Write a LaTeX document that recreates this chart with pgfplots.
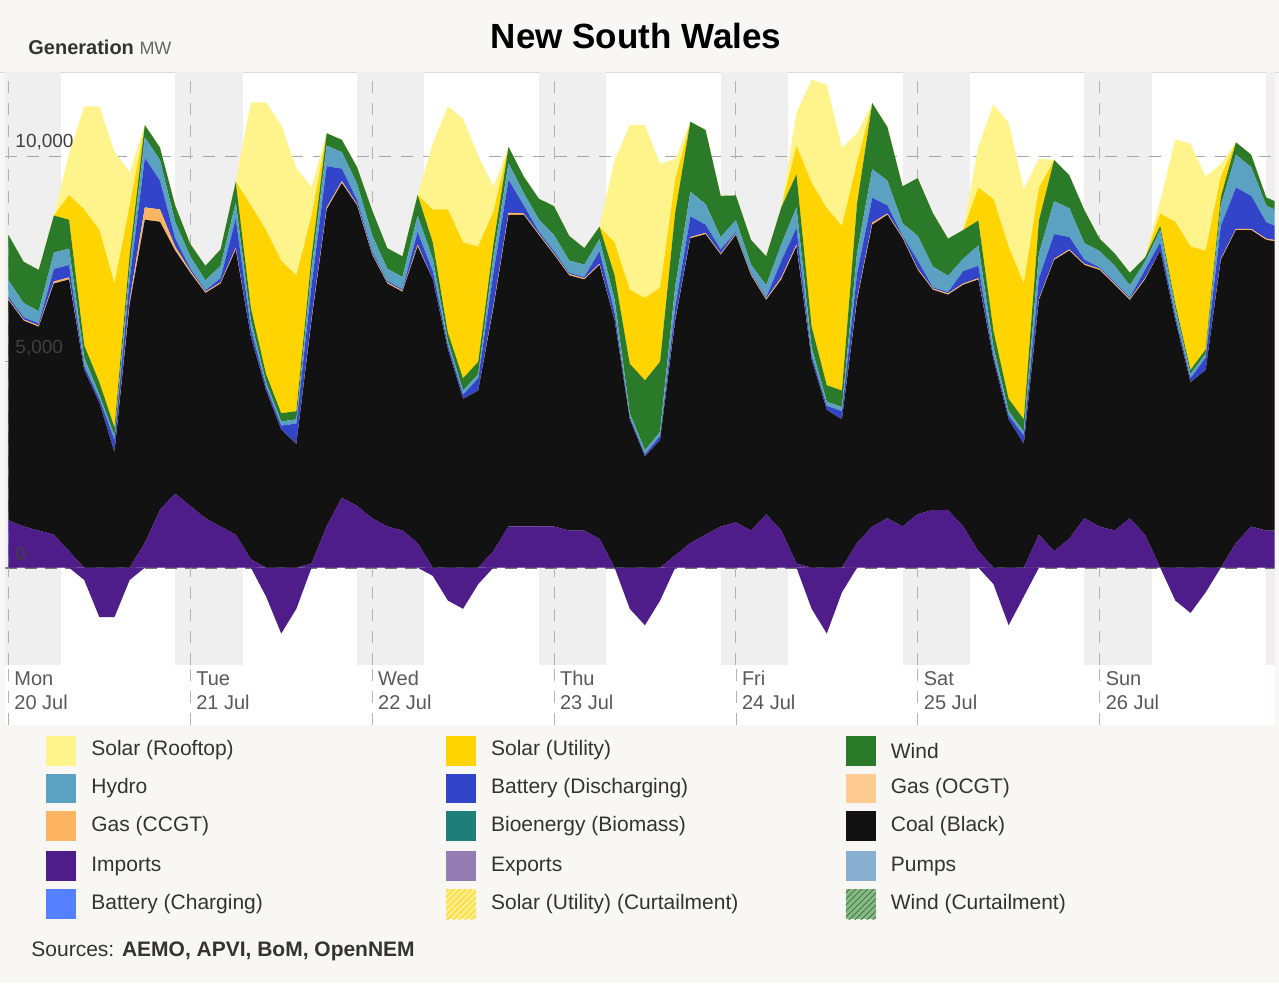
\documentclass[border=0pt]{standalone}
\usepackage{fontspec}
\setmainfont{Liberation Sans}
\usepackage{pgfplots}
\usepackage{pgfplotstable}
\pgfplotsset{compat=1.18}
\usetikzlibrary{patterns}
\definecolor{bg}{HTML}{F8F7F3}
\definecolor{roof}{HTML}{FFF38C}
\definecolor{sutil}{HTML}{FFD400}
\definecolor{wind}{HTML}{2B7A2A}
\definecolor{hydro}{HTML}{5BA2C2}
\definecolor{batt}{HTML}{3245C8}
\definecolor{gasc}{HTML}{FDB462}
\definecolor{gaso}{HTML}{FFCB92}
\definecolor{coal}{HTML}{121212}
\definecolor{imp}{HTML}{4F1D8A}
\definecolor{expo}{HTML}{957DB3}
\definecolor{pumps}{HTML}{88AED0}
\definecolor{bcharge}{HTML}{5580FF}
\definecolor{bio}{HTML}{1F7E7A}
\definecolor{night}{HTML}{EFEFEF}
\definecolor{txt}{HTML}{333333}
\pgfplotstableread{
h imp exp coal gas batt hydro wind sutil sroof
0 1150 0 5350 30 50 400 1100 0 0
2 1000 0 5000 30 50 350 1000 0 0
4 900 0 4950 30 50 300 1000 0 0
6 800 0 6100 50 300 400 900 0 0
8 400 0 6600 50 300 400 700 600 1000
10 0 -300 4800 0 100 200 300 3300 2500
12 0 -1200 4000 0 100 100 300 3700 3000
14 0 -1200 2800 0 300 100 200 3500 3200
16 0 -300 6400 100 500 300 300 1200 800
18 600 0 7850 300 1200 500 300 0 0
20 1400 0 7000 300 700 500 300 0 0
22 1800 0 5900 100 200 400 400 0 0
24 1500 0 5660 50 50 300 300 0 0
26 1200 0 5470 30 30 250 350 0 0
28 1000 0 5900 30 100 300 400 0 0
30 800 0 6920 50 700 400 500 0 0
32 200 0 5400 0 200 200 300 2500 2500
34 0 -700 4300 0 100 100 200 3500 3100
36 0 -1600 3350 0 100 100 200 3700 3300
38 0 -1000 3000 0 500 100 200 3300 2600
40 100 0 5900 50 800 400 300 1000 700
42 1000 0 7700 50 1000 500 300 0 0
44 1700 0 7640 50 300 400 300 0 0
46 1500 0 7300 30 100 400 400 0 0
48 1200 0 6400 30 50 400 600 0 0
50 1000 0 5900 30 30 300 500 0 0
52 900 0 5800 30 30 300 500 0 0
54 600 0 7200 50 300 400 500 0 0
56 0 -200 7000 0 200 300 400 800 1600
58 0 -800 5300 0 100 100 200 3000 2500
60 0 -1000 4100 0 100 100 300 3300 3000
62 0 -400 4300 0 300 100 300 2800 2200
64 400 0 5900 50 800 400 300 800 600
66 1000 0 7570 50 800 400 400 0 0
68 1000 0 7570 30 200 300 400 0 0
70 1000 0 7080 30 50 300 500 0 0
72 1000 0 6600 30 50 400 700 0 0
74 900 0 6200 30 30 300 600 0 0
76 900 0 6100 30 30 300 400 0 0
78 700 0 6650 30 300 300 300 0 0
80 0 0 6000 0 200 300 600 800 2000
82 0 -1000 3600 0 50 100 1200 1800 4000
84 0 -1400 2700 0 50 100 1700 2000 4200
86 0 -800 3100 0 100 100 1700 1800 3000
88 300 0 5700 30 300 500 1800 800 500
90 600 0 7400 30 500 600 1700 0 0
92 800 0 7300 30 200 500 1800 0 0
94 1000 0 6600 30 100 300 1000 0 0
96 1100 0 6980 30 30 300 600 0 0
98 900 0 6200 30 30 200 600 0 0
100 1300 0 5200 30 30 300 700 0 0
102 900 0 6100 50 400 400 900 0 0
104 100 0 7700 50 400 500 800 700 800
106 0 -1000 5050 0 100 200 500 3500 2500
108 0 -1600 3830 0 100 100 400 4300 3000
110 0 -600 3600 0 200 100 400 4000 1900
112 600 0 5900 50 600 500 1200 1000 700
114 1000 0 7330 50 600 700 1600 0 0
116 1200 0 7370 30 200 600 1300 0 0
118 1000 0 7000 30 30 300 900 0 0
120 1300 0 5930 30 200 600 1400 0 0
122 1400 0 5350 30 30 500 1300 0 0
124 1400 0 5230 30 30 400 900 0 0
126 1000 0 5870 30 300 300 700 0 0
128 400 0 6600 30 300 500 600 800 1000
130 0 -400 5050 0 100 200 400 3200 2300
132 0 -1400 3600 0 100 100 300 3700 3000
134 0 -700 3000 0 200 100 300 3300 2300
136 800 0 5700 30 500 600 800 800 700
138 400 0 7070 30 600 800 1000 0 0
140 700 0 7000 30 300 700 800 0 0
142 1200 0 6150 30 100 400 800 0 0
144 1000 0 6230 30 30 400 300 0 0
146 900 0 5970 30 30 400 300 0 0
148 1200 0 5300 30 30 300 300 0 0
150 800 0 6200 30 200 200 100 0 0
152 0 0 7700 0 200 300 100 300 300
154 0 -800 6000 0 100 200 100 2000 2000
156 0 -1100 4500 0 100 100 100 3000 2500
158 0 -600 4800 0 300 100 100 2400 1800
160 0 0 7470 30 800 500 200 500 300
162 600 0 7600 30 1000 800 300 0 0
164 1000 0 7200 30 800 700 300 0 0
166 900 0 7060 30 400 400 200 0 0
168 900 0 7000 30 300 400 200 0 0
}\data
\begin{document}
\begin{tikzpicture}[x=1pt,y=1pt]
\fill[bg] (0,0) rectangle (639.5,492);
\fill[white] (2.5,129.5) rectangle (637.5,456);
\draw[black!15] (0,456) -- (639.5,456);
\foreach \a/\b in {2.5/30.17,87.42/121.17,178.41/212.16,269.40/303.15,360.39/394.14,451.38/485.13,542.37/576.12,633.36/637.5}{
  \fill[night] (\a,159.5) rectangle (\b,456);}
\node[anchor=center,font=\fontsize{17.5}{20}\selectfont\bfseries] at (318,474) {New South Wales};
\node[anchor=west,text=txt] at (10.5,468.5) {\fontsize{10}{12}\selectfont\bfseries Generation \fontsize{9}{11}\selectfont\mdseries\color{black!60}MW};
\begin{axis}[at={(2.5pt,159.5pt)},anchor=south west,scale only axis,
  width=635pt,height=296.5pt,xmin=-0.4,xmax=167.1,ymin=-2354,ymax=12039,
  axis line style={draw=none},ticks=none,clip=true,stack plots=y]
\addplot[fill=imp,draw=none] table[x=h,y=imp]{\data} \closedcycle;
\addplot[fill=coal,draw=none] table[x=h,y=coal]{\data} \closedcycle;
\addplot[fill=gasc,draw=none] table[x=h,y=gas]{\data} \closedcycle;
\addplot[fill=batt,draw=none] table[x=h,y=batt]{\data} \closedcycle;
\addplot[fill=hydro,draw=none] table[x=h,y=hydro]{\data} \closedcycle;
\addplot[fill=wind,draw=none] table[x=h,y=wind]{\data} \closedcycle;
\addplot[fill=sutil,draw=none] table[x=h,y=sutil]{\data} \closedcycle;
\addplot[fill=roof,draw=none] table[x=h,y=sroof]{\data} \closedcycle;
\addplot[fill=imp,draw=none,stack plots=false] table[x=h,y=exp]{\data} \closedcycle;
\pgfplotsinvokeforeach{0,24,48,72,96,120,144}{
  \draw[black!30,dash pattern=on 6pt off 5pt] (axis cs:#1,-2354) -- (axis cs:#1,12039);}
\draw[black!35,dash pattern=on 6pt off 5pt] (axis cs:-0.4,5000) -- (axis cs:167.1,5000);
\draw[black!35,dash pattern=on 6pt off 5pt] (axis cs:-0.4,10000) -- (axis cs:167.1,10000);
\draw[black!55,line width=1pt,dash pattern=on 6pt off 4pt] (axis cs:-0.4,0) -- (axis cs:167.1,0);
\end{axis}
\draw[black!30,dash pattern=on 6pt off 5pt] (4,129.5) -- (4,159.5);
\foreach \i in {1,...,6}{\draw[black!30,dash pattern=on 6pt off 5pt] (4+91*\i,129.5) -- (4+91*\i,159.5);}
\begin{scope}[every node/.style={anchor=west,font=\fontsize{9.5}{11}\selectfont,text=black!75}]
\node at (4,421) {10,000};
\node at (4,318) {5,000};
\node at (4,215) {0};
\end{scope}
\begin{scope}[every node/.style={anchor=west,font=\fontsize{10}{12}\selectfont,text=black!65}]
\foreach \n/\dd [count=\i from 0] in {Mon/20,Tue/21,Wed/22,Thu/23,Fri/24,Sat/25,Sun/26}{
  \node at (3.5+91*\i,152.5) {\n};
  \node at (3.5+91*\i,140.5) {\dd{} Jul};}
\end{scope}
\begin{scope}[every node/.style={anchor=west,font=\fontsize{10.5}{12}\selectfont,text=txt}]
\def\sw#1#2#3#4{\fill[#3] (#1,#2-7.5) rectangle ++(15,15); \node at (#1+19,#2) {#4};}
\sw{23}{116.5}{roof}{Solar (Rooftop)}
\sw{223}{116.5}{sutil}{Solar (Utility)}
\sw{423}{116.5}{wind}{Wind}
\sw{23}{97.5}{hydro}{Hydro}
\sw{223}{97.5}{batt}{Battery (Discharging)}
\sw{423}{97.5}{gaso}{Gas (OCGT)}
\sw{23}{78.5}{gasc}{Gas (CCGT)}
\sw{223}{78.5}{bio}{Bioenergy (Biomass)}
\sw{423}{78.5}{coal}{Coal (Black)}
\sw{23}{58.5}{imp}{Imports}
\sw{223}{58.5}{expo}{Exports}
\sw{423}{58.5}{pumps}{Pumps}
\sw{23}{39.5}{bcharge}{Battery (Charging)}
\sw{223}{39.5}{sutil!45}{Solar (Utility) (Curtailment)}
\fill[pattern=north east lines,pattern color=sutil] (223,32) rectangle ++(15,15);
\sw{423}{39.5}{wind!55}{Wind (Curtailment)}
\fill[pattern=north east lines,pattern color=wind] (423,32) rectangle ++(15,15);
\node at (12,16) {Sources: \textbf{AEMO, APVI, BoM, OpenNEM}};
\end{scope}
\end{tikzpicture}
\end{document}
